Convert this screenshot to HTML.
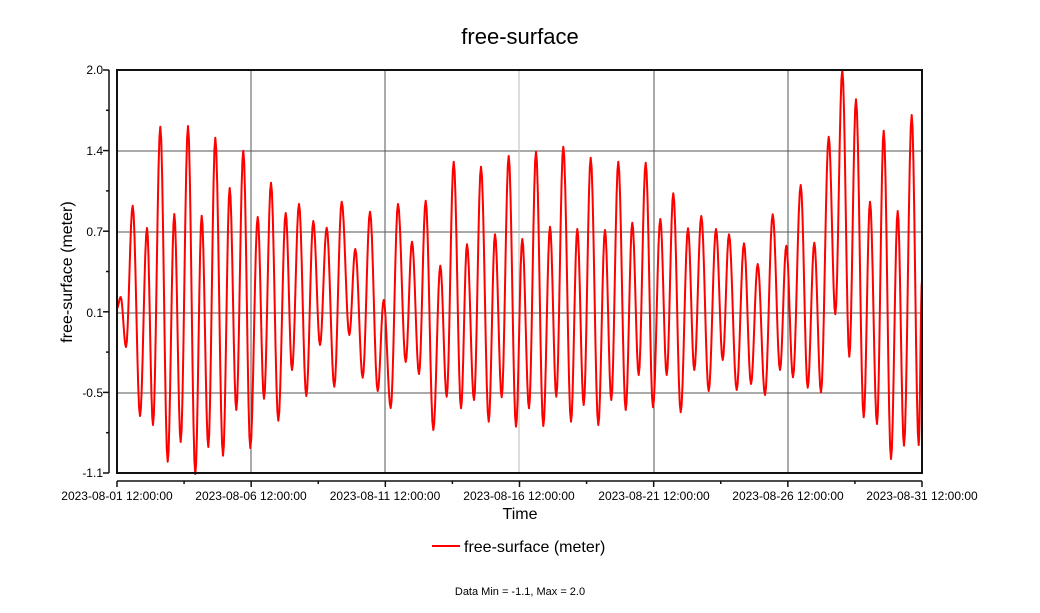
<!DOCTYPE html><html><head><meta charset="utf-8"><style>
body{margin:0;background:#fff;font-family:"Liberation Sans","DejaVu Sans",sans-serif}
</style></head><body>
<svg id="s" width="1040" height="608" xmlns="http://www.w3.org/2000/svg" font-family="Liberation Sans, DejaVu Sans, sans-serif">
<rect width="1040" height="608" fill="#fff"/>
<text x="520" y="44" font-size="22" text-anchor="middle">free-surface</text>
<g stroke="#555" stroke-width="1">
<line x1="117" y1="151" x2="922" y2="151"/><line x1="117" y1="232" x2="922" y2="232"/>
<line x1="117" y1="313" x2="922" y2="313"/><line x1="117" y1="393" x2="922" y2="393"/>
<line x1="251" y1="70" x2="251" y2="473"/><line x1="385" y1="70" x2="385" y2="473"/>
<line x1="519" y1="70" x2="519" y2="473" stroke="#bbb"/><line x1="654" y1="70" x2="654" y2="473"/>
<line x1="788" y1="70" x2="788" y2="473"/>
</g>
<path id="p" fill="none" stroke="#f00" stroke-width="2" stroke-linejoin="round"/>
<rect x="117" y="70" width="805" height="403" fill="none" stroke="#111" stroke-width="2"/>
<g stroke="#111" stroke-width="1.5">
<line x1="109" y1="70" x2="109" y2="473"/>
<line x1="117" y1="481" x2="922" y2="481"/>
</g>
<g id="ticks" stroke="#111" stroke-width="1.5"></g>
<g font-size="12" text-anchor="end">
<text x="103" y="74">2.0</text><text x="103" y="155">1.4</text><text x="103" y="236">0.7</text>
<text x="103" y="317">0.1</text><text x="103" y="397">-0.5</text><text x="103" y="477">-1.1</text>
</g>
<g font-size="12" text-anchor="middle">
<text x="117" y="500">2023-08-01 12:00:00</text><text x="251" y="500">2023-08-06 12:00:00</text>
<text x="385" y="500">2023-08-11 12:00:00</text><text x="519" y="500">2023-08-16 12:00:00</text>
<text x="654" y="500">2023-08-21 12:00:00</text><text x="788" y="500">2023-08-26 12:00:00</text>
<text x="922" y="500">2023-08-31 12:00:00</text>
</g>
<text x="520" y="519" font-size="16" text-anchor="middle">Time</text>
<text transform="translate(72,272) rotate(-90)" font-size="16" text-anchor="middle">free-surface (meter)</text>
<line x1="432" y1="546" x2="460" y2="546" stroke="#f00" stroke-width="2"/>
<text x="464" y="552" font-size="16">free-surface (meter)</text>
<text x="520" y="595" font-size="11" text-anchor="middle">Data Min = -1.1, Max = 2.0</text>
</svg>
<script>
var P=[[117,308],[120.7,297],[126,347],[132.7,205.7],[140,416],[147,228],[153,425],[160.3,126.7],[167.7,461.7],[174.3,214],[180.7,442],[188,126],[195.3,474],[201.7,215.7],[208.3,447],[215.3,137.7],[223,455.7],[229.7,188],[236.3,410],[243.3,150.7],[250.3,448],[257.7,217],[264,398.7],[271,182.7],[278.3,420.7],[285.7,213],[292,370],[299,204],[306.3,396],[313.3,221],[320,345],[326.7,227.7],[334.3,386.7],[341.7,201.7],[349.3,335],[355.3,249],[362.7,377.7],[370,211.7],[377.7,391],[383.7,300],[390.7,408],[398,204],[405.7,362],[412,241.7],[419,374],[425.7,200.7],[433.3,430],[440.3,265.7],[446.7,396.7],[453.7,161.7],[461,408.3],[467,244.3],[474,400],[481,166.7],[488.7,421.7],[495,234.3],[501.7,397.3],[508.7,156],[516,426.7],[522.3,239],[529,408.3],[536,151.7],[543.3,426],[550,226.7],[556.3,396.7],[563.3,146.7],[571,421.7],[577.3,229],[583.7,405],[590.7,157.7],[598.3,425],[605,230],[611.3,400],[618.3,161.7],[625.7,410],[632.3,222.7],[638.7,375],[645.7,162.7],[653,407.3],[660.3,219],[666.7,375],[673.3,193.3],[680.7,412.3],[688,228.3],[694.3,370],[701.3,216],[708.7,391],[716,229],[722.7,360],[729,234.3],[736.7,390],[744,243.3],[751,384],[757.7,264],[765,395],[772.7,214.3],[780,370],[786.3,245.7],[793,377.3],[800.7,185],[807.7,387.7],[814.3,242.7],[821,392.3],[828.7,136.7],[835.3,314.3],[842.3,70],[849.3,356.7],[856,99.3],[863.7,417.3],[870,201.7],[877,424],[883.7,130.7],[891,459],[897.7,211],[904,445.7],[911.7,115],[918.7,445],[922,280]];
var d="M"+P[0][0]+" "+P[0][1];
for(var i=0;i<P.length-1;i++){var a=P[i],b=P[i+1];for(var k=1;k<=8;k++){var t=k/8,f=(1-Math.cos(Math.PI*t))/2;d+=" L"+(a[0]+(b[0]-a[0])*t).toFixed(2)+" "+(a[1]+(b[1]-a[1])*f).toFixed(2);}}
document.getElementById("p").setAttribute("d",d);
var g=document.getElementById("ticks"),h="";
for(var j=0;j<=10;j++){var y=70+j*40.3;h+='<line x1="'+(j%2?106:103)+'" y1="'+y+'" x2="109" y2="'+y+'"/>';}
for(var j=0;j<=12;j++){var x=117+j*805/12;h+='<line x1="'+x+'" y1="481" x2="'+x+'" y2="'+(j%2?484:487)+'"/>';}
g.innerHTML=h;
</script>
</body></html>
